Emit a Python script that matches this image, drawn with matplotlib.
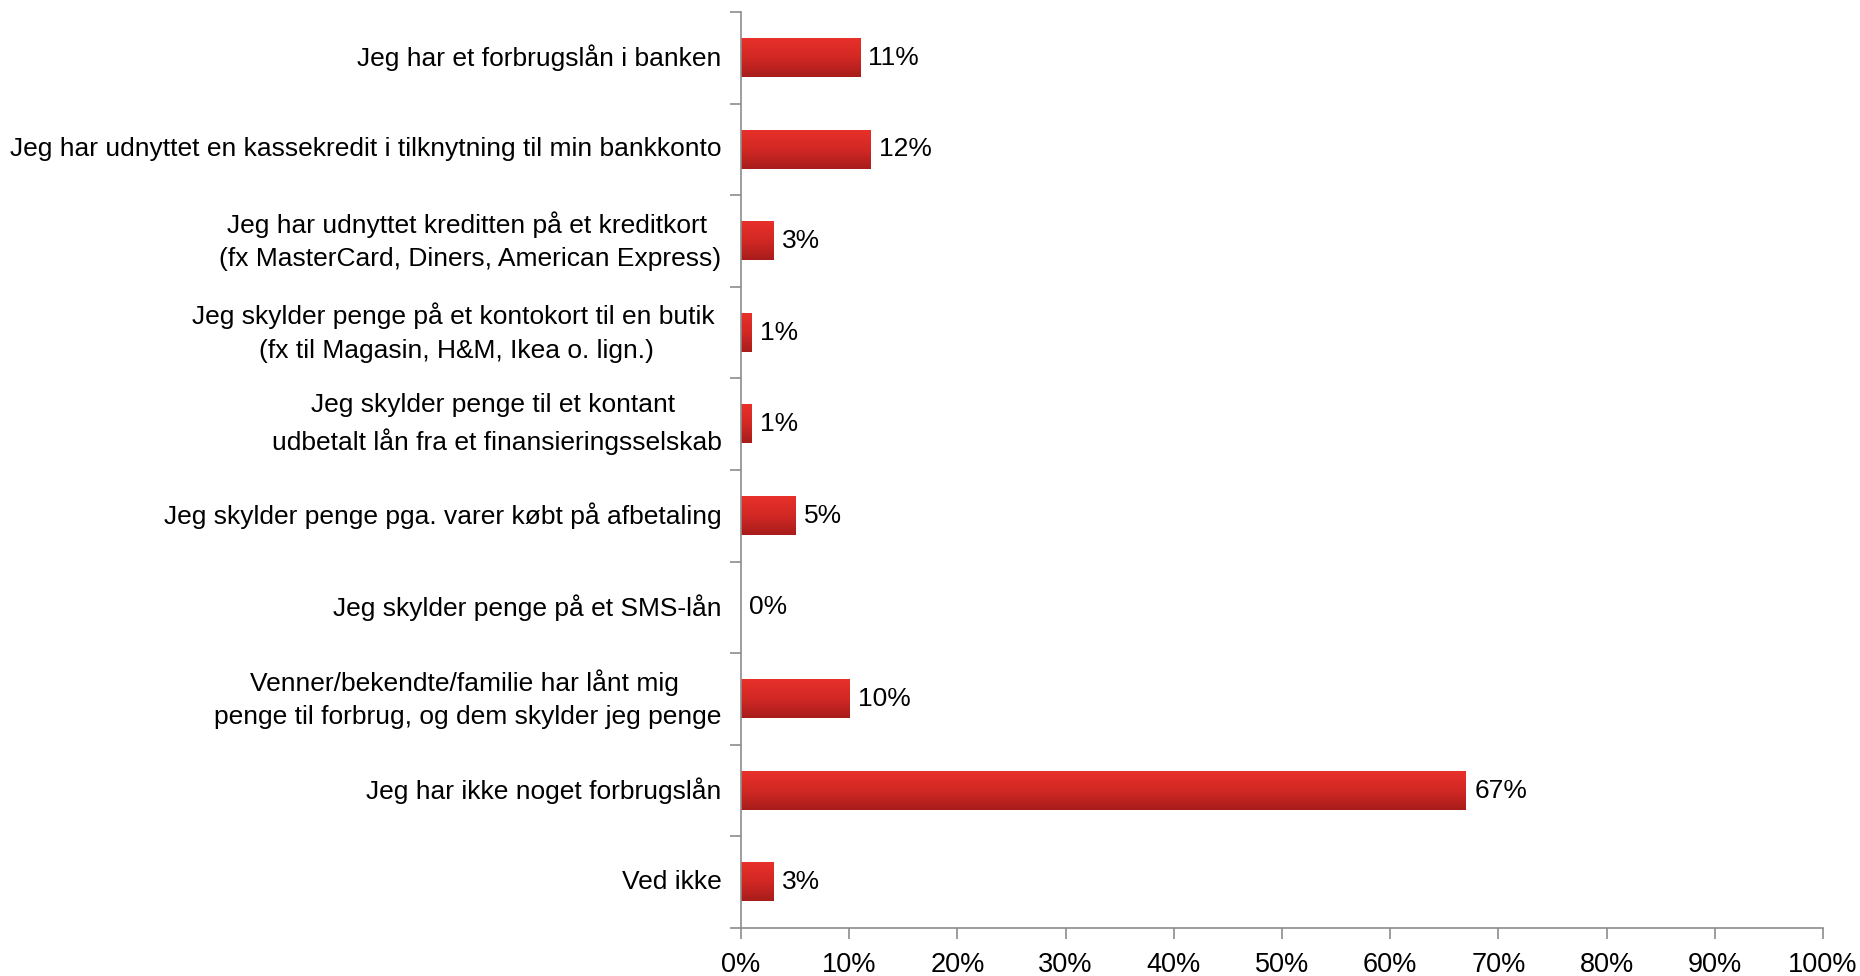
import numpy as np
import matplotlib

matplotlib.use("Agg")
import matplotlib.pyplot as plt
from matplotlib.colors import LinearSegmentedColormap
from matplotlib.ticker import FixedLocator, PercentFormatter

plt.rcParams["font.family"] = ["Liberation Sans", "DejaVu Sans"]

categories = [
    "Jeg har et forbrugslån i banken",
    "Jeg har udnyttet en kassekredit i tilknytning til min bankkonto",
    "Jeg har udnyttet kreditten på et kreditkort \n(fx MasterCard, Diners, American Express)",
    "Jeg skylder penge på et kontokort til en butik \n(fx til Magasin, H&M, Ikea o. lign.)",
    "Jeg skylder penge til et kontant \nudbetalt lån fra et finansieringsselskab",
    "Jeg skylder penge pga. varer købt på afbetaling",
    "Jeg skylder penge på et SMS-lån",
    "Venner/bekendte/familie har lånt mig \npenge til forbrug, og dem skylder jeg penge",
    "Jeg har ikke noget forbrugslån",
    "Ved ikke",
]
values = [11, 12, 3, 1, 1, 5, 0, 10, 67, 3]
x_ticks = [0, 10, 20, 30, 40, 50, 60, 70, 80, 90, 100]

fig = plt.figure(figsize=(18.6, 9.76), dpi=100)
ax = fig.add_axes([0.3984, 0.0492, 0.5817, 0.9385])

n = len(categories)
y = np.arange(n)
bar_h = 0.42
fs = 19

# red gradient, bright on top, darker at the bottom
cmap = LinearSegmentedColormap.from_list("bar", ["#e8302a", "#d22824", "#a81d1b"])
grad = np.linspace(0, 1, 64).reshape(-1, 1)

bars = ax.barh(y, values, height=bar_h, color="none", edgecolor="none")
for rect, v in zip(bars, values):
    if v <= 0:
        continue
    x0, y0 = rect.get_x(), rect.get_y()
    w, h = rect.get_width(), rect.get_height()
    ax.imshow(grad, cmap=cmap, aspect="auto", extent=(x0, x0 + w, y0 + h, y0),
              origin="upper", zorder=2, interpolation="bicubic")

for yi, v in zip(y, values):
    ax.annotate(f"{v}%", xy=(v, yi), xytext=(6, 0), textcoords="offset points",
                va="center", ha="left", fontsize=fs, color="black")

ax.set_xlim(0, 100)
ax.set_ylim(n - 0.5, -0.5)
ax.set_xticks(x_ticks)
ax.xaxis.set_major_formatter(PercentFormatter(decimals=0))

ax.set_yticks(y)
ax.set_yticklabels(categories, fontsize=fs, ha="right", va="center",
                   multialignment="center", linespacing=1.5)
ax.yaxis.set_minor_locator(FixedLocator(np.arange(-0.5, n, 1.0)))
ax.tick_params(axis="y", which="major", length=0, pad=14)
ax.tick_params(axis="y", which="minor", length=8, width=1.2, color="#8c8c8c", direction="out")
ax.tick_params(axis="x", length=8, width=1.2, color="#8c8c8c", labelsize=19.5, pad=9)

for side in ["top", "right"]:
    ax.spines[side].set_visible(False)
for side in ["left", "bottom"]:
    ax.spines[side].set_color("#8c8c8c")
    ax.spines[side].set_linewidth(1.2)

fig.savefig("out.png", dpi=100, facecolor="white")
